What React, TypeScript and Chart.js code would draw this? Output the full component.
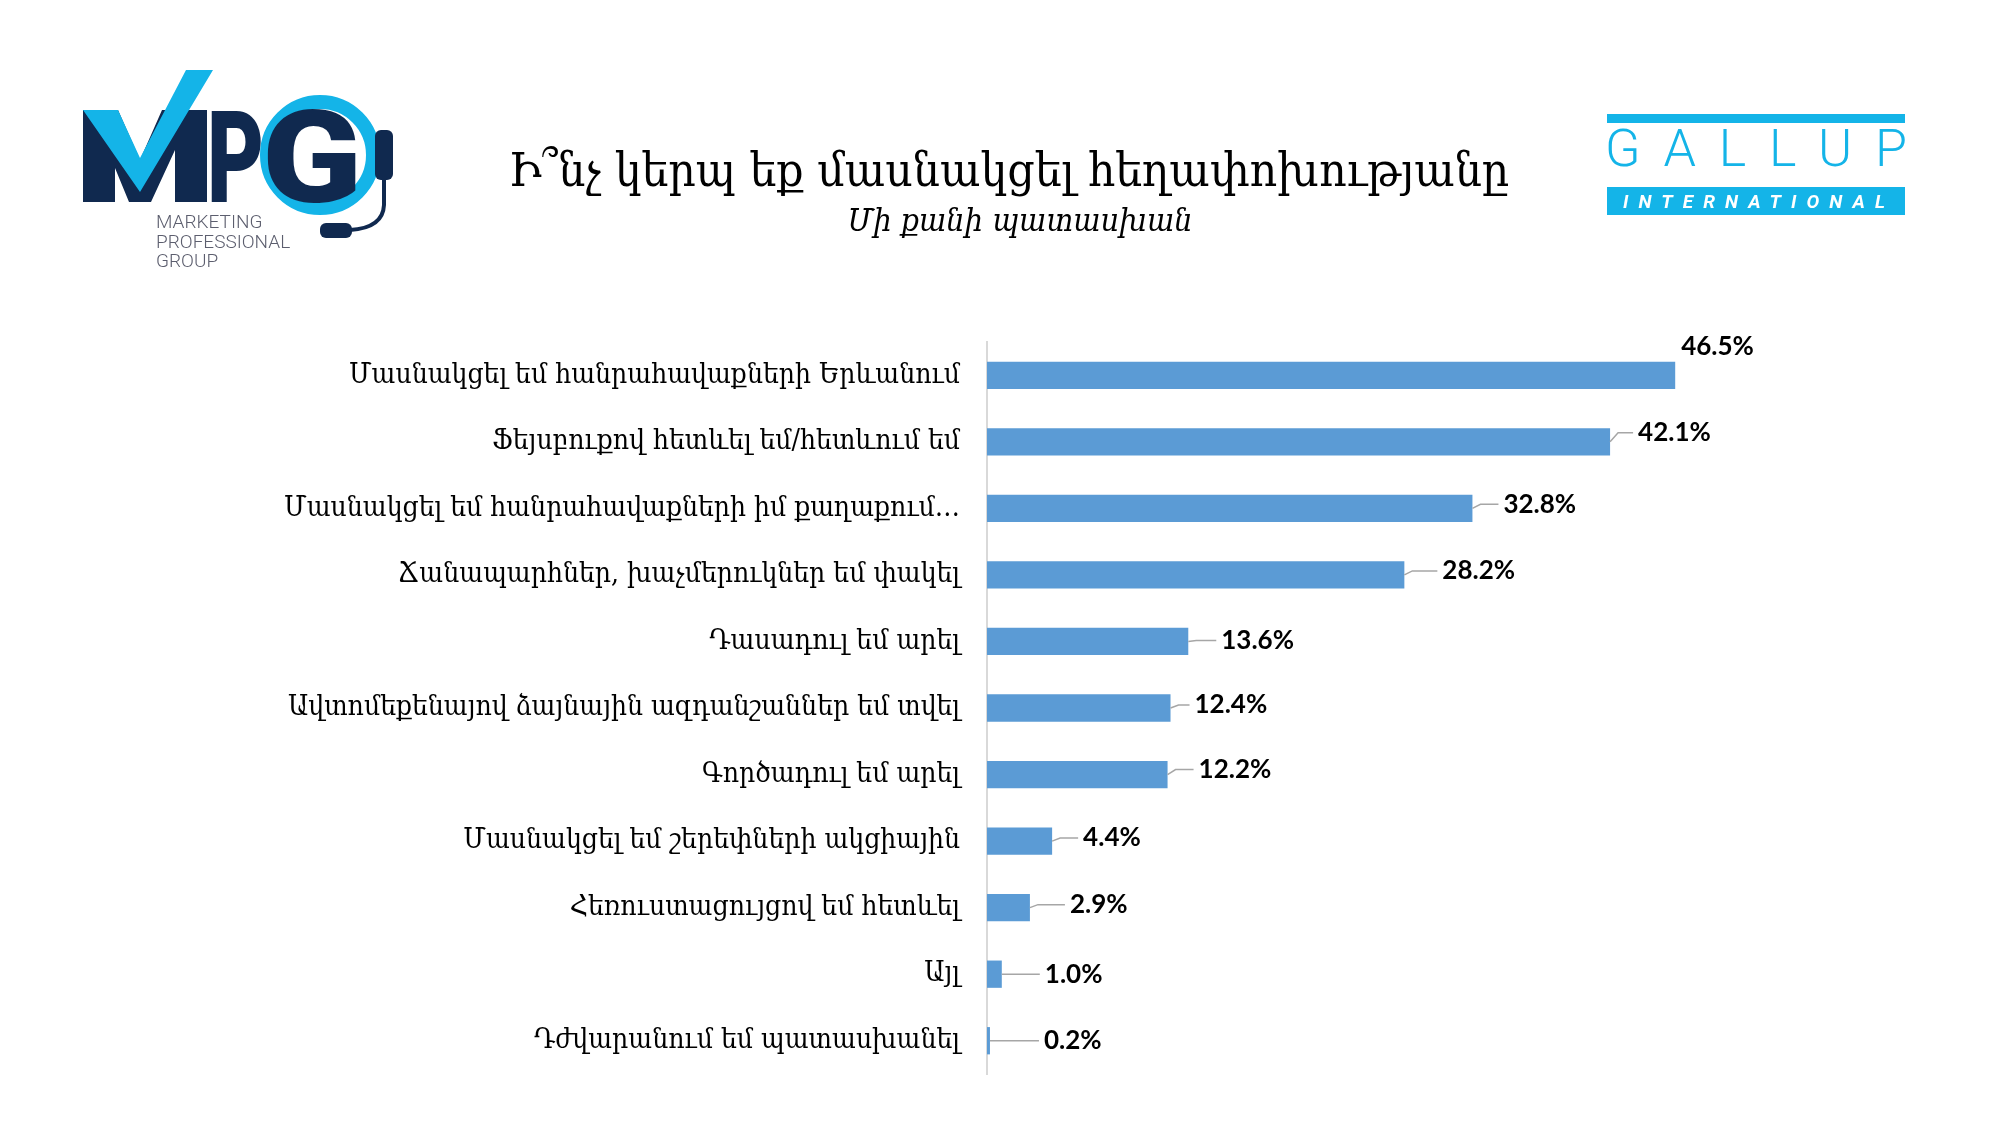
import React, { useEffect, useRef } from "react";
import { Chart, registerables } from "chart.js";

Chart.register(...registerables);

const titleText = "Ի՞նչ կերպ եք մասնակցել հեղափոխությանը";
const subtitleText = "Մի քանի պատասխան";

const categories = [
  "Մասնակցել եմ հանրահավաքների Երևանում",
  "Ֆեյսբուքով հետևել եմ/հետևում եմ",
  "Մասնակցել եմ հանրահավաքների իմ քաղաքում…",
  "Ճանապարհներ, խաչմերուկներ եմ փակել",
  "Դասադուլ եմ արել",
  "Ավտոմեքենայով ձայնային ազդանշաններ եմ տվել",
  "Գործադուլ եմ արել",
  "Մասնակցել եմ շերեփների ակցիային",
  "Հեռուստացույցով եմ հետևել",
  "Այլ",
  "Դժվարանում եմ պատասխանել",
];

const values = [46.5, 42.1, 32.8, 28.2, 13.6, 12.4, 12.2, 4.4, 2.9, 1.0, 0.2];

const valueLabels = ["46.5%", "42.1%", "32.8%", "28.2%", "13.6%", "12.4%", "12.2%", "4.4%", "2.9%", "1.0%", "0.2%"];

// label placement relative to bar end (px gap, vertical shift)
const labelGapX = [6, 28, 31, 38, 33, 24, 31, 31, 40, 43, 54];
const labelDy = [-29, -9, -4, -4, -1, -3, -5, -3, -3, 0, 0];
const showLeader = [false, true, true, true, true, true, true, true, true, true, true];

const BAR_COLOR = "#5B9BD5";
const CYAN = "#14B4E8";
const NAVY = "#10294F";

const valueLabelPlugin = {
  id: "valueLabels",
  afterDatasetsDraw(chart: any) {
    const ctx = chart.ctx;
    const meta = chart.getDatasetMeta(0);
    ctx.save();
    ctx.font = "bold 26px Lato, 'Open Sans', sans-serif";
    ctx.textBaseline = "middle";
    ctx.textAlign = "left";
    meta.data.forEach((bar: any, i: number) => {
      const endX = bar.x;
      const y = bar.y;
      const lx = endX + labelGapX[i];
      const ly = y + labelDy[i];
      if (showLeader[i]) {
        ctx.strokeStyle = "#A6A6A6";
        ctx.lineWidth = 1.5;
        ctx.beginPath();
        ctx.moveTo(endX, y);
        ctx.lineTo(endX + Math.min(8, labelGapX[i] / 3), ly);
        ctx.lineTo(lx - 5, ly);
        ctx.stroke();
      }
      ctx.fillStyle = "#000";
      ctx.fillText(valueLabels[i], lx, ly);
    });
    ctx.restore();
  },
};

function MpgLogo() {
  return (
    <svg width={420} height={290} style={{ position: "absolute", left: 0, top: 0 }} viewBox="0 0 420 290">
      <polygon
        points="83,110 118,110 140,160 162,110 207,110 207,202 175,202 175,150 151,202 129,202 115,168 115,202 83,202"
        fill={NAVY}
      />
      <polygon points="83,110 118,110 140,158 186,70 213,70 140,192" fill={CYAN} />
      <text x={207} y={202} fontFamily="Roboto, 'Open Sans', sans-serif" fontWeight={900} fontSize={128} fill={NAVY} textLength={57} lengthAdjust="spacingAndGlyphs">P</text>
      <circle cx={320} cy={155} r={53} fill="none" stroke={CYAN} strokeWidth={14} />
      <text x={262} y={202} fontFamily="Roboto, 'Open Sans', sans-serif" fontWeight={900} fontSize={128} fill={NAVY} textLength={100} lengthAdjust="spacingAndGlyphs">G</text>
      <rect x={375} y={130} width={18} height={50} rx={6} fill={NAVY} />
      <path d="M384,178 L384,205 Q383,228 350,230" fill="none" stroke={NAVY} strokeWidth={4} />
      <rect x={320} y={223} width={32} height={15} rx={6} fill={NAVY} />
      <g fontFamily="Roboto, 'Open Sans', sans-serif" fontSize={19} fontWeight={300} fill="#5C5E6E">
        <text x={156} y={228}>MARKETING</text>
        <text x={156} y={248}>PROFESSIONAL</text>
        <text x={156} y={267}>GROUP</text>
      </g>
    </svg>
  );
}

function GallupLogo() {
  return (
    <svg width={400} height={240} style={{ position: "absolute", left: 1560, top: 0 }} viewBox="1560 0 400 240">
      <rect x={1607} y={114} width={298} height={9} fill={CYAN} />
      <text x={1605} y={166} fontFamily="Roboto, 'Open Sans', sans-serif" fontWeight={300} fontSize={52} fill={CYAN} textLength={302} lengthAdjust="spacing">GALLUP</text>
      <rect x={1607} y={187} width={298} height={28} fill={CYAN} />
      <text x={1623} y={208} fontFamily="Roboto, 'Open Sans', sans-serif" fontWeight={700} fontStyle="italic" fontSize={19} fill="#FFFFFF" textLength={262} lengthAdjust="spacing">INTERNATIONAL</text>
    </svg>
  );
}

export default function App() {
  const canvasRef = useRef<HTMLCanvasElement | null>(null);

  useEffect(() => {
    if (!canvasRef.current) return;
    const chart = new Chart(canvasRef.current, {
      type: "bar",
      data: {
        labels: categories,
        datasets: [
          {
            data: values,
            backgroundColor: BAR_COLOR,
            borderWidth: 0,
            barPercentage: 0.41,
            categoryPercentage: 1,
          },
        ],
      },
      options: {
        indexAxis: "y",
        responsive: false,
        maintainAspectRatio: false,
        devicePixelRatio: 1,
        animation: false,
        layout: { padding: { top: 342, bottom: 51, left: 0, right: 273 } },
        plugins: {
          legend: { display: false },
          tooltip: { enabled: false },
          title: { display: false },
        },
        scales: {
          x: {
            display: false,
            min: 0,
            max: 50,
          },
          y: {
            afterFit: (scale: any) => {
              scale.width = 987;
            },
            grid: { display: false, drawTicks: false },
            border: { display: true, color: "#D9D9D9", width: 2 },
            ticks: {
              color: "#000",
              padding: 27,
              font: { family: "'DejaVu Serif Condensed', 'DejaVu Serif', serif", size: 28 },
            },
          },
        },
      },
      plugins: [valueLabelPlugin],
    } as any);
    return () => chart.destroy();
  }, []);

  return (
    <div style={{ position: "fixed", left: 0, top: 0, width: 2000, height: 1125, background: "#fff", overflow: "hidden" }}>
      <canvas ref={canvasRef} width={2000} height={1125} style={{ position: "absolute", left: 0, top: 0, width: 2000, height: 1125 }} />
      <MpgLogo />
      <GallupLogo />
      <div
        style={{
          position: "absolute",
          left: 0,
          width: 2018,
          top: 138,
          textAlign: "center",
          fontFamily: "'DejaVu Serif Condensed', 'DejaVu Serif', serif",
          fontSize: 47.5,
          lineHeight: "64px",
          color: "#000",
          whiteSpace: "nowrap",
        }}
      >
        {titleText}
      </div>
      <div
        style={{
          position: "absolute",
          left: 0,
          width: 2040,
          top: 199,
          textAlign: "center",
          fontFamily: "'DejaVu Serif Condensed', 'DejaVu Serif', serif",
          fontStyle: "italic",
          fontSize: 32,
          lineHeight: "42px",
          color: "#000",
          whiteSpace: "nowrap",
        }}
      >
        {subtitleText}
      </div>
    </div>
  );
}
